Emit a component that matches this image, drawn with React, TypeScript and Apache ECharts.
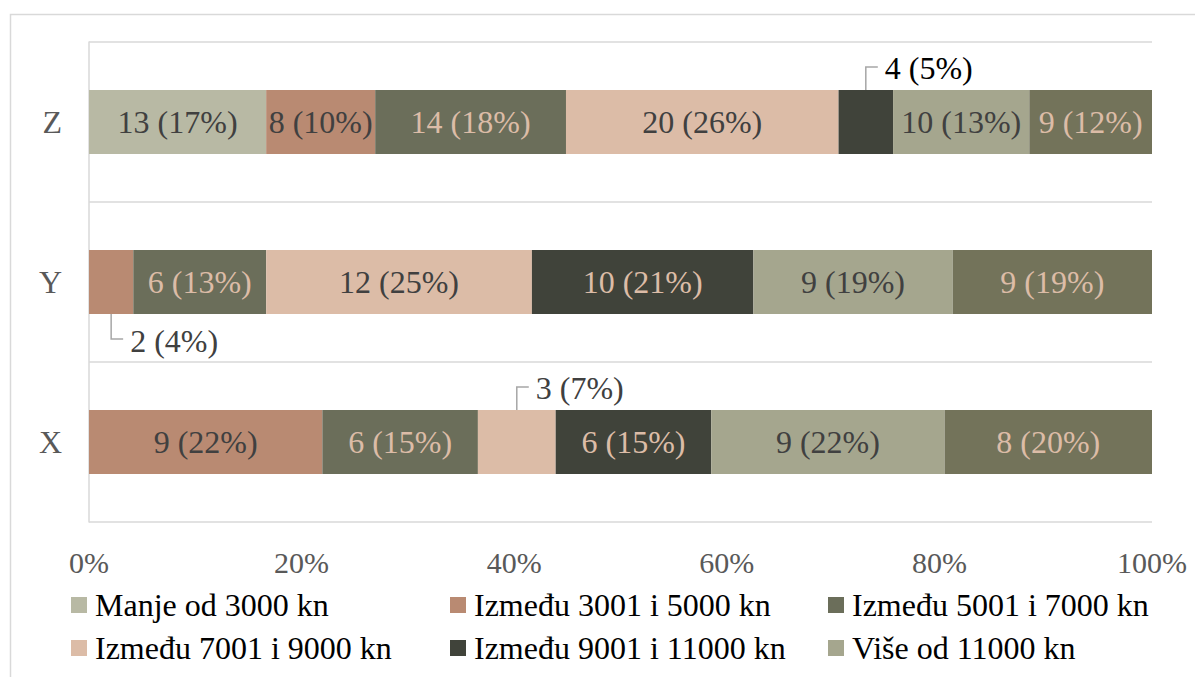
import React, { useEffect, useRef } from "react";
import * as echarts from "echarts";

const categories = ["X", "Y", "Z"];
const seriesNames = [
  "Manje od 3000 kn",
  "Između 3001 i 5000 kn",
  "Između 5001 i 7000 kn",
  "Između 7001 i 9000 kn",
  "Između 9001 i 11000 kn",
  "Više od 11000 kn",
  "Bez odgovora",
];
// counts per category [X, Y, Z]
const manje3000 = [0, 0, 13];
const od3001do5000 = [9, 2, 8];
const od5001do7000 = [6, 6, 14];
const od7001do9000 = [3, 12, 20];
const od9001do11000 = [6, 10, 4];
const vise11000 = [9, 9, 10];
const sedmaSerija = [8, 9, 9];
const xTickLabels = ["0%", "20%", "40%", "60%", "80%", "100%"];

const counts = [manje3000, od3001do5000, od5001do7000, od7001do9000, od9001do11000, vise11000, sedmaSerija];
const colors = ["#b8b9a4", "#b98a72", "#6b6e5a", "#dcbca7", "#40433a", "#a5a68e", "#73735a"];
const labelColors = ["#404040", "#404040", "#dcbca7", "#404040", "#dcbca7", "#404040", "#dcbca7"];
// callout side for small segments, per category
const calloutSide: Record<string, string> = { X: "top", Y: "bottom", Z: "top" };
const calloutTextColor: Record<string, string> = { X: "#404040", Y: "#404040", Z: "#000000" };

const FONT = "'Liberation Serif', 'Times New Roman', serif";

export default function App() {
  const ref = useRef<HTMLDivElement>(null);
  useEffect(() => {
    if (!ref.current) return;
    const chart = echarts.init(ref.current, null, { renderer: "svg" });
    const totals = categories.map((_, ci) => counts.reduce((s, arr) => s + arr[ci], 0));
    const pct = (si: number, ci: number) => (counts[si][ci] / totals[ci]) * 100;
    const callouts: { si: number; ci: number }[] = [];

    const series = counts.map((arr, si) => ({
      name: seriesNames[si],
      type: "bar",
      stack: "total",
      barWidth: 64,
      itemStyle: { color: colors[si] },
      label: {
        show: true,
        position: "inside",
        fontFamily: FONT,
        fontSize: 32,
        color: labelColors[si],
        formatter: (p: any) => {
          const ci = p.dataIndex;
          const c = counts[si][ci];
          if (!c) return "";
          return `${c} (${Math.round(pct(si, ci))}%)`;
        },
      },
      data: arr.map((c, ci) => {
        const v = pct(si, ci);
        if (c > 0 && v < 8) {
          callouts.push({ si, ci });
          const side = calloutSide[categories[ci]];
          return {
            value: v,
            label: {
              position: side === "top" ? ["50%", 0] : ["50%", "100%"],
              align: "left",
              verticalAlign: "middle",
              offset: side === "top" ? [19, -22] : [19, 27],
              color: calloutTextColor[categories[ci]],
            },
          };
        }
        return v;
      }),
    }));

    const legendPos = [
      [71, 589],
      [450, 589],
      [828, 589],
      [71, 632],
      [450, 632],
      [828, 632],
    ];
    const legends = legendPos.map((p, i) => ({
      data: [seriesNames[i]],
      left: p[0],
      top: p[1],
      padding: 0,
      icon: "rect",
      itemWidth: 16,
      itemHeight: 16,
      selectedMode: false,
      textStyle: { fontFamily: FONT, fontSize: 32, color: "#000000", padding: [0, 0, 0, 3] },
    }));

    chart.setOption({
      animation: false,
      backgroundColor: "#ffffff",
      grid: { left: 89, right: 43, top: 42, bottom: 155, containLabel: false },
      legend: legends,
      xAxis: {
        type: "value",
        min: 0,
        max: 100,
        interval: 20,
        axisLine: { show: false },
        axisTick: { show: false },
        splitLine: { show: false },
        axisLabel: {
          margin: 25,
          fontFamily: FONT,
          fontSize: 30,
          color: "#595959",
          formatter: (v: number) => xTickLabels[Math.round(v / 20)] ?? `${v}%`,
        },
      },
      yAxis: {
        type: "category",
        data: categories,
        axisLine: { show: true, lineStyle: { color: "#d9d9d9", width: 1.5 } },
        axisTick: { show: false },
        splitLine: { show: true, lineStyle: { color: "#d9d9d9", width: 1.5 } },
        axisLabel: { margin: 27, fontFamily: FONT, fontSize: 32, color: "#595959" },
      },
      series,
    });

    const graphics: any[] = [
      {
        type: "rect",
        shape: { x: 10.5, y: 14.5, width: 1250, height: 750 },
        style: { fill: "none", stroke: "#d9d9d9", lineWidth: 1.5 },
        silent: true,
      },
    ];
    callouts.forEach(({ si, ci }) => {
      let start = 0;
      for (let k = 0; k < si; k++) start += pct(k, ci);
      const mid = start + pct(si, ci) / 2;
      const cx = chart.convertToPixel({ xAxisIndex: 0 }, mid) as number;
      const cy = chart.convertToPixel({ yAxisIndex: 0 }, categories[ci]) as number;
      const side = calloutSide[categories[ci]];
      const edge = side === "top" ? cy - 32 : cy + 32;
      const elbowY = side === "top" ? edge - 23 : edge + 25;
      graphics.push({
        type: "polyline",
        shape: { points: [[cx, edge], [cx, elbowY], [cx + 12, elbowY]] },
        style: { stroke: "#a6a6a6", lineWidth: 1.5, fill: "none" },
        silent: true,
      });
    });
    chart.setOption({ graphic: graphics });

    return () => chart.dispose();
  }, []);
  return (
    <div
      ref={ref}
      style={{ position: "absolute", left: 0, top: 0, width: 1195, height: 677 }}
    />
  );
}
